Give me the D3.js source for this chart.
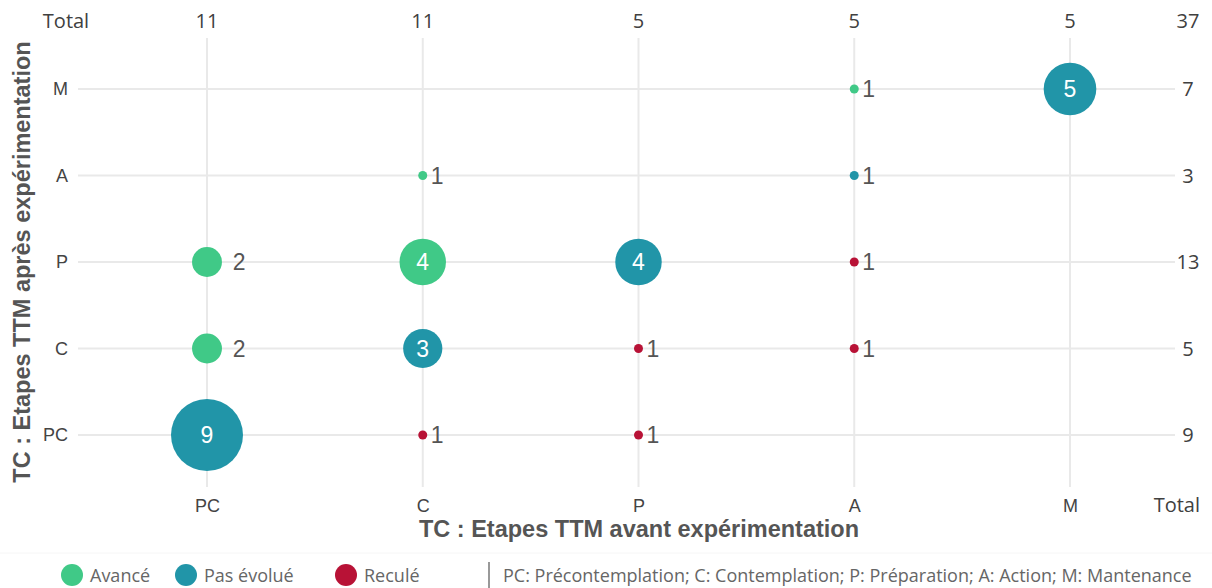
<!DOCTYPE html>
<html>
<head>
<meta charset="utf-8">
<script src="https://cdn.jsdelivr.net/npm/d3@7"></script>
<style>
  html, body { margin: 0; padding: 0; background: #fff; }
  svg { display: block; }
</style>
</head>
<body>
<svg id="chart" width="1212" height="588"></svg>
<script>
// ---- data ----
const stages = ["PC", "C", "P", "A", "M"];
const beforeStage = ["PC", "PC", "PC", "C", "C", "C", "C", "P", "P", "P", "A", "A", "A", "A", "M"];
const afterStage  = ["PC", "C",  "P",  "PC", "C", "P", "A", "PC", "C", "P", "C", "P", "A", "M", "M"];
const counts      = [9,    2,    2,    1,    3,   4,   1,   1,    1,   4,   1,   1,   1,   1,   5];
const status      = ["Pas évolué", "Avancé", "Avancé", "Reculé", "Pas évolué", "Avancé", "Avancé",
                     "Reculé", "Reculé", "Pas évolué", "Reculé", "Reculé", "Pas évolué", "Avancé", "Pas évolué"];
const colTotals = [11, 11, 5, 5, 5];       // per "avant" stage PC..M
const rowTotals = [9, 5, 13, 3, 7];        // per "après" stage PC..M
const grandTotal = 37;
const legendLabels = ["Avancé", "Pas évolué", "Reculé"];
const legendColors = ["#40c987", "#2195a8", "#b81236"];
const noteText = "PC: Précontemplation; C: Contemplation; P: Préparation; A: Action; M: Mantenance";

const rows = counts.map((v, i) => ({ before: beforeStage[i], after: afterStage[i], v, s: status[i] }));

// ---- scales ----
const svg = d3.select("#chart");
const x = d3.scalePoint().domain(stages).range([207, 1070]);
const y = d3.scalePoint().domain(stages).range([435, 89]);
const color = d3.scaleOrdinal().domain(legendLabels).range(legendColors);
const rScale = d3.scalePow().exponent(0.53).domain([0, 8]).range([4.5, 36]);
const r = v => rScale(v - 1);

const numFont = "'Liberation Sans', Arial, sans-serif";
const uiFont = "'Open Sans', 'Noto Sans', sans-serif";

// ---- grid ----
const grid = svg.append("g");
grid.selectAll("line.h").data(stages).join("line")
  .attr("x1", 78).attr("x2", 1175)
  .attr("y1", d => y(d)).attr("y2", d => y(d))
  .attr("stroke", "#e9e9e9").attr("stroke-width", 2);
grid.selectAll("line.v").data(stages).join("line")
  .attr("y1", 38).attr("y2", 487)
  .attr("x1", d => x(d)).attr("x2", d => x(d))
  .attr("stroke", "#e9e9e9").attr("stroke-width", 2);

// ---- axes ----
const xAxis = svg.append("g").attr("transform", "translate(0,493)")
  .call(d3.axisBottom(x).tickSize(0).tickPadding(6));
xAxis.select(".domain").remove();
xAxis.attr("font-family", numFont).attr("font-size", 18);
xAxis.selectAll("text").attr("fill", "#444");

const yAxis = svg.append("g").attr("transform", "translate(76,0)")
  .call(d3.axisLeft(y).tickSize(0).tickPadding(8));
yAxis.select(".domain").remove();
yAxis.attr("font-family", numFont).attr("font-size", 18);
yAxis.selectAll("text").attr("fill", "#444");

// axis titles
svg.append("text").attr("x", 639).attr("y", 537).attr("text-anchor", "middle")
  .attr("font-family", numFont).attr("font-weight", "bold").attr("font-size", 23.5).attr("fill", "#555")
  .text("TC : Etapes TTM avant expérimentation");
svg.append("text").attr("transform", "translate(30,262) rotate(-90)").attr("text-anchor", "middle")
  .attr("font-family", numFont).attr("font-weight", "bold").attr("font-size", 23.5).attr("fill", "#555")
  .text("TC : Etapes TTM après expérimentation");

// ---- totals ----
const tot = svg.append("g").attr("font-family", uiFont).attr("font-size", 20).attr("fill", "#404040");
tot.append("text").attr("x", 66).attr("y", 28).attr("text-anchor", "middle").text("Total");
tot.selectAll("text.ct").data(colTotals).join("text").attr("class", "ct")
  .attr("x", (d, i) => x(stages[i])).attr("y", 28).attr("text-anchor", "middle").text(d => d);
tot.append("text").attr("x", 1188).attr("y", 28).attr("text-anchor", "middle").text(grandTotal);
tot.selectAll("text.rt").data(rowTotals).join("text").attr("class", "rt")
  .attr("x", 1188).attr("y", (d, i) => y(stages[i])).attr("dy", "0.36em").attr("text-anchor", "middle").text(d => d);
tot.append("text").attr("x", 1200).attr("y", 512).attr("text-anchor", "end").text("Total");

// ---- bubbles ----
const marks = svg.append("g");
marks.selectAll("circle").data(rows).join("circle")
  .attr("cx", d => x(d.before)).attr("cy", d => y(d.after))
  .attr("r", d => r(d.v)).attr("fill", d => color(d.s));

marks.selectAll("text").data(rows).join("text")
  .attr("x", d => d.v >= 3 ? x(d.before) : x(d.before) + r(d.v) * 1.7 + 0.3)
  .attr("y", d => y(d.after)).attr("dy", "0.36em")
  .attr("text-anchor", d => d.v >= 3 ? "middle" : "start")
  .attr("font-family", numFont).attr("font-size", 23)
  .attr("fill", d => d.v >= 3 ? "#fff" : "#555")
  .text(d => d.v);

// ---- legend ----
svg.append("line").attr("x1", 0).attr("x2", 1212).attr("y1", 553).attr("y2", 553)
  .attr("stroke", "#f6f6f6").attr("stroke-width", 1);
const legendX = [72, 186, 346];
const lg = svg.append("g").attr("font-family", uiFont).attr("font-size", 18).attr("fill", "#666");
lg.selectAll("circle").data(legendLabels).join("circle")
  .attr("cx", (d, i) => legendX[i]).attr("cy", 575).attr("r", 11).attr("fill", d => color(d));
lg.selectAll("text").data(legendLabels).join("text")
  .attr("x", (d, i) => legendX[i] + 18).attr("y", 582).text(d => d);
svg.append("line").attr("x1", 489).attr("x2", 489).attr("y1", 562).attr("y2", 588)
  .attr("stroke", "#777").attr("stroke-width", 1.5);
lg.append("text").attr("x", 503).attr("y", 582).text(noteText);
</script>
</body>
</html>
